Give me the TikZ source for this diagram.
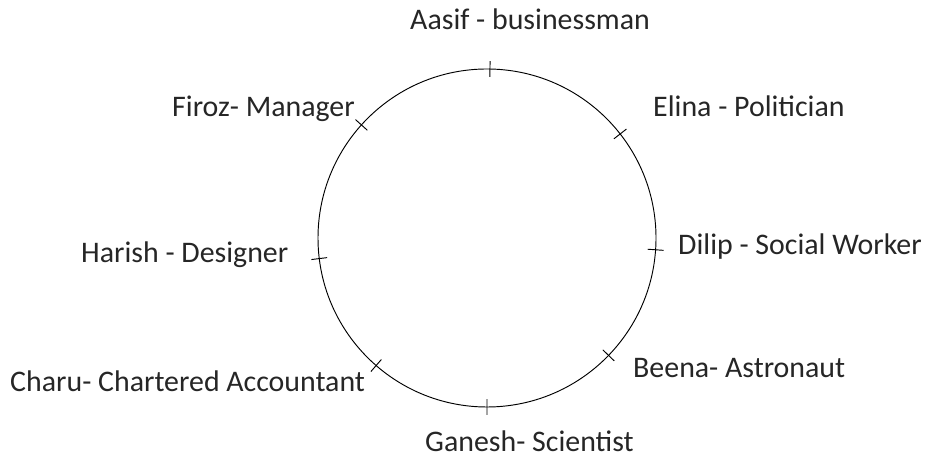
\documentclass[tikz,border=0pt]{standalone}
\usepackage{fontspec}
\setmainfont{Carlito}
\usepackage{tikz}
\usetikzlibrary{calc,through}

\begin{document}
\begin{tikzpicture}[x=0.03cm,y=0.03cm]
\tikzstyle{every node} = [inner sep=0cm]
\tikzstyle{person} = [anchor=base west, font=\fontsize{25.5}{30}\selectfont, text=black!85]
\useasboundingbox (0,0) rectangle (932,461);
\coordinate (centre) at (487,223);
\coordinate (rim) at (656,223);
\node (ring) [draw, circle through=(rim), line width=0.8pt] at (centre) {};
\foreach \ang in {89,38,356,316,270,229,187,138}
	\draw[line width=0.8pt] ($(centre)!0.953!(ring.\ang)$) -- ($(centre)!1.047!(ring.\ang)$);
\node (aasif) [person] at (410,431) {Aasif - businessman};
\node (firoz) [person] at (172,344) {Firoz- Manager};
\node (elina) [person] at (653,344) {Elina - Politician};
\node (harish) [person] at (81,198) {Harish - Designer};
\node (dilip) [person] at (678,206) {Dilip - Social Worker};
\node (charu) [person] at (10,69) {Charu- Chartered Accountant};
\node (beena) [person] at (633,83) {Beena- Astronaut};
\node (ganesh) [person] at (425,9) {Ganesh- Scientist};
\end{tikzpicture}
\end{document}
